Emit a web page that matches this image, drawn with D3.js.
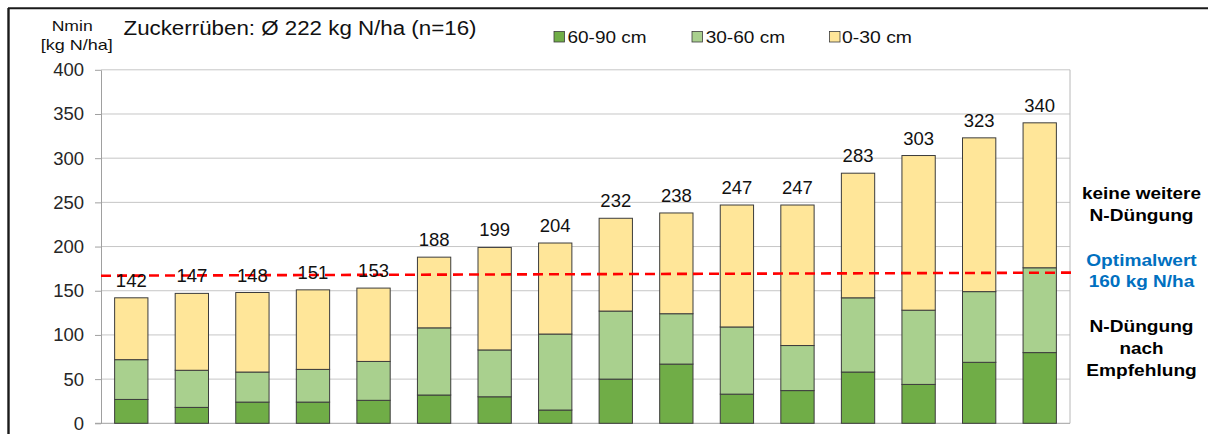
<!DOCTYPE html>
<html>
<head>
<meta charset="utf-8">
<script src="https://cdn.jsdelivr.net/npm/d3@7"></script>
<style>
  html, body { margin: 0; padding: 0; background: #fff; }
  svg { display: block; font-family: "Liberation Sans", Arial, sans-serif; }
</style>
</head>
<body>
<svg id="chart" width="1208" height="434"></svg>
<script>
// Nmin per field, split by soil layer (kg N/ha)
const fields = d3.range(1, 17);
const layer60to90 = [27, 18, 24, 24, 26, 32, 30, 15, 50, 67, 33, 37, 58, 44, 69, 80];
const layer30to60 = [45, 42, 34, 37, 44, 76, 53, 86, 77, 57, 76, 51, 84, 84, 80, 96];
const layer0to30  = [70, 87, 90, 90, 83, 80, 116, 103, 105, 114, 138, 159, 141, 175, 174, 164];
const layerNames  = ["60-90 cm", "30-60 cm", "0-30 cm"];
const yTicks      = [0, 50, 100, 150, 200, 250, 300, 350, 400];
// dashed guide line, value at left and right end
const guideLine   = [167, 170.5];

const colors = { "60-90 cm": "#70ad47", "30-60 cm": "#a9d08e", "0-30 cm": "#ffe699" };

const rows = fields.map((f, i) => ({
  field: f,
  "60-90 cm": layer60to90[i],
  "30-60 cm": layer30to60[i],
  "0-30 cm": layer0to30[i]
}));

const svg = d3.select("#chart");
const plot = { left: 101, right: 1070, top: 69.8, bottom: 423.3 };

const x = d3.scaleBand()
  .domain(fields)
  .range([plot.left, plot.right])
  .paddingInner(0.45)
  .paddingOuter(0.225);

const y = d3.scaleLinear().domain([0, 400]).range([plot.bottom, plot.top]);

// outer frame (top and left edges)
svg.append("line").attr("x1", 8).attr("x2", 1208).attr("y1", 8.3).attr("y2", 8.3)
  .attr("stroke", "#1a1a1a").attr("stroke-width", 2);
svg.append("line").attr("x1", 8.5).attr("x2", 8.5).attr("y1", 8).attr("y2", 434)
  .attr("stroke", "#1a1a1a").attr("stroke-width", 2.4);

// gridlines
svg.append("g").selectAll("line").data(yTicks.filter(d => d > 0)).join("line")
  .attr("x1", plot.left).attr("x2", plot.right)
  .attr("y1", d => y(d)).attr("y2", d => y(d))
  .attr("stroke", "#c6c6c6").attr("stroke-width", 1);

// right border of plot area
svg.append("line").attr("x1", plot.right).attr("x2", plot.right)
  .attr("y1", plot.top).attr("y2", plot.bottom)
  .attr("stroke", "#b8b8b8").attr("stroke-width", 1);

// y axis
const yAxis = svg.append("g").attr("transform", `translate(${plot.left},0)`)
  .call(d3.axisLeft(y).tickValues(yTicks).tickSize(6).tickSizeOuter(0).tickPadding(11));
yAxis.select(".domain").attr("stroke", "#a0a0a0");
yAxis.selectAll(".tick line").attr("stroke", "#a0a0a0");
yAxis.selectAll(".tick text")
  .attr("font-size", "18.5px")
  .attr("font-family", "Liberation Sans, Arial, sans-serif")
  .attr("fill", "#262626");

// x axis baseline
svg.append("line").attr("x1", plot.left - 6).attr("x2", plot.right)
  .attr("y1", y(0)).attr("y2", y(0))
  .attr("stroke", "#a0a0a0").attr("stroke-width", 1);

// stacked bars
const stacked = d3.stack().keys(layerNames)(rows);
svg.append("g").selectAll("g").data(stacked).join("g")
  .attr("fill", d => colors[d.key])
  .selectAll("rect").data(d => d).join("rect")
  .attr("x", d => x(d.data.field))
  .attr("width", x.bandwidth())
  .attr("y", d => y(d[1]))
  .attr("height", d => y(d[0]) - y(d[1]))
  .attr("stroke", "#3c3c3c")
  .attr("stroke-width", 1);

// dashed guide line
svg.append("line")
  .attr("x1", plot.left).attr("x2", plot.right + 5)
  .attr("y1", y(guideLine[0])).attr("y2", y(guideLine[1]))
  .attr("stroke", "#ff0000").attr("stroke-width", 2.6)
  .attr("stroke-dasharray", "10,6");

// totals above bars
svg.append("g").selectAll("text").data(rows).join("text")
  .attr("x", d => x(d.field) + x.bandwidth() / 2)
  .attr("y", d => y(d["60-90 cm"] + d["30-60 cm"] + d["0-30 cm"]) - 11)
  .attr("text-anchor", "middle")
  .attr("font-size", "18.5px")
  .attr("fill", "#111")
  .text(d => d["60-90 cm"] + d["30-60 cm"] + d["0-30 cm"]);

// axis unit label
svg.append("text").attr("x", 72.2).attr("y", 31.3).attr("text-anchor", "middle")
  .attr("font-size", "15px").attr("fill", "#111")
  .attr("textLength", 41).attr("lengthAdjust", "spacingAndGlyphs").text("Nmin");
svg.append("text").attr("x", 76.7).attr("y", 50.3).attr("text-anchor", "middle")
  .attr("font-size", "15px").attr("fill", "#111")
  .attr("textLength", 72).attr("lengthAdjust", "spacingAndGlyphs").text("[kg N/ha]");

// heading
svg.append("text").attr("x", 123.5).attr("y", 35)
  .attr("font-size", "20px").attr("fill", "#111")
  .attr("textLength", 353).attr("lengthAdjust", "spacingAndGlyphs")
  .text("Zuckerrüben: Ø 222 kg N/ha (n=16)");

// legend
const legendPos = [
  { key: "60-90 cm", sx: 554, tx: 567.5, w: 79 },
  { key: "30-60 cm", sx: 692, tx: 705.7, w: 79.3 },
  { key: "0-30 cm",  sx: 829.5, tx: 842, w: 70 }
];
const legend = svg.append("g").selectAll("g").data(legendPos).join("g");
legend.append("rect")
  .attr("x", d => d.sx).attr("y", 31.5).attr("width", 10.5).attr("height", 10.5)
  .attr("fill", d => colors[d.key]).attr("stroke", "#3c3c3c").attr("stroke-width", 0.8);
legend.append("text")
  .attr("x", d => d.tx).attr("y", 42.5)
  .attr("font-size", "16.5px").attr("fill", "#111")
  .attr("textLength", d => d.w).attr("lengthAdjust", "spacingAndGlyphs")
  .text(d => d.key);

// side notes
const notes = [
  { t: "keine weitere", y: 199.3, w: 119, c: "#000" },
  { t: "N-Düngung", y: 220.7, w: 104, c: "#000" },
  { t: "Optimalwert", y: 265.5, w: 110.5, c: "#0070c0" },
  { t: "160 kg N/ha", y: 287.2, w: 105.5, c: "#0070c0" },
  { t: "N-Düngung", y: 331.7, w: 104, c: "#000" },
  { t: "nach", y: 354, w: 44, c: "#000" },
  { t: "Empfehlung", y: 375.7, w: 110.5, c: "#000" }
];
svg.append("g").selectAll("text").data(notes).join("text")
  .attr("x", 1141.5).attr("y", d => d.y)
  .attr("text-anchor", "middle")
  .attr("font-size", "17.3px").attr("font-weight", "bold")
  .attr("fill", d => d.c)
  .attr("textLength", d => d.w).attr("lengthAdjust", "spacingAndGlyphs")
  .text(d => d.t);
</script>
</body>
</html>
